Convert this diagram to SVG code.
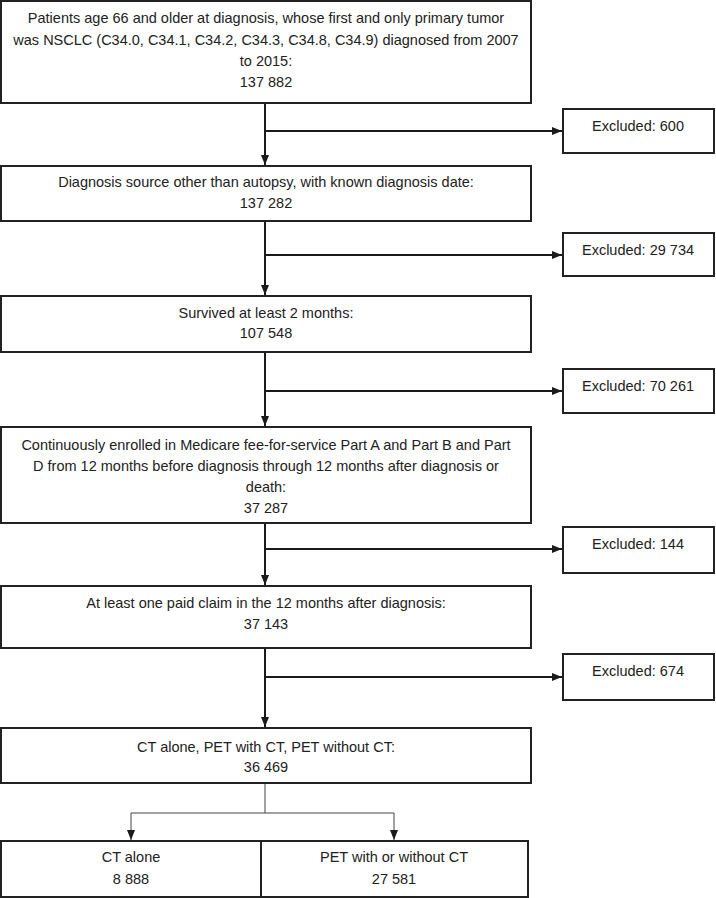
<svg xmlns="http://www.w3.org/2000/svg" width="716" height="898" viewBox="0 0 716 898">
<style>
.box{fill:#fff;stroke:#222;stroke-width:2}
.t{font-family:"Liberation Sans",Arial,sans-serif;font-size:14.5px;fill:#222;text-anchor:middle}
.ln{stroke:#1a1a1a;stroke-width:2;fill:none}
.thin{stroke:#444;stroke-width:1;fill:none}
</style>
<defs>
<marker id="ah" viewBox="0 0 10 10" refX="10" refY="5" markerWidth="10" markerHeight="10" markerUnits="userSpaceOnUse" orient="auto">
<path d="M0,1 L10,5 L0,9 Z" fill="#1a1a1a"/>
</marker>
</defs>
<rect width="716" height="898" fill="#fff"/>
<g id="connectors">
<path class="ln" d="M265,103 V165" marker-end="url(#ah)"/>
<path class="ln" d="M265,131 H562" marker-end="url(#ah)"/>
<path class="ln" d="M265,221 V295" marker-end="url(#ah)"/>
<path class="ln" d="M265,255 H562" marker-end="url(#ah)"/>
<path class="ln" d="M265,352 V426" marker-end="url(#ah)"/>
<path class="ln" d="M265,391 H562" marker-end="url(#ah)"/>
<path class="ln" d="M265,523 V585" marker-end="url(#ah)"/>
<path class="ln" d="M265,549 H562" marker-end="url(#ah)"/>
<path class="ln" d="M265,648 V727" marker-end="url(#ah)"/>
<path class="ln" d="M265,677 H562" marker-end="url(#ah)"/>
<path class="thin" d="M265,783 V813 M131,813 H394"/>
<path class="thin" d="M131,813 V840" marker-end="url(#ah)"/>
<path class="thin" d="M394,813 V840" marker-end="url(#ah)"/>
</g>
<g id="n1">
<rect class="box" x="1" y="1" width="530" height="102"/>
<text class="t" x="266" y="23">Patients age 66 and older at diagnosis, whose first and only primary tumor</text>
<text class="t" x="266" y="44.5">was NSCLC (C34.0, C34.1, C34.2, C34.3, C34.8, C34.9) diagnosed from 2007</text>
<text class="t" x="266" y="66">to 2015:</text>
<text class="t" x="266" y="87">137 882</text>
</g>
<g id="e1">
<rect class="box" x="563" y="109" width="151" height="44"/>
<text class="t" x="638" y="131">Excluded: 600</text>
</g>
<g id="n2">
<rect class="box" x="1" y="166" width="530" height="55"/>
<text class="t" x="266" y="187">Diagnosis source other than autopsy, with known diagnosis date:</text>
<text class="t" x="266" y="208">137 282</text>
</g>
<g id="e2">
<rect class="box" x="563" y="233" width="151" height="43"/>
<text class="t" x="638" y="255">Excluded: 29 734</text>
</g>
<g id="n3">
<rect class="box" x="1" y="296" width="530" height="56"/>
<text class="t" x="266" y="318">Survived at least 2 months:</text>
<text class="t" x="266" y="338">107 548</text>
</g>
<g id="e3">
<rect class="box" x="563" y="369" width="151" height="44"/>
<text class="t" x="638" y="391">Excluded: 70 261</text>
</g>
<g id="n4">
<rect class="box" x="1" y="427" width="530" height="96"/>
<text class="t" x="266" y="450">Continuously enrolled in Medicare fee-for-service Part A and Part B and Part</text>
<text class="t" x="266" y="471">D from 12 months before diagnosis through 12 months after diagnosis or</text>
<text class="t" x="266" y="492">death:</text>
<text class="t" x="266" y="513">37 287</text>
</g>
<g id="e4">
<rect class="box" x="563" y="527" width="151" height="46"/>
<text class="t" x="638" y="549">Excluded: 144</text>
</g>
<g id="n5">
<rect class="box" x="1" y="586" width="530" height="62"/>
<text class="t" x="266" y="608">At least one paid claim in the 12 months after diagnosis:</text>
<text class="t" x="266" y="629">37 143</text>
</g>
<g id="e5">
<rect class="box" x="563" y="654" width="151" height="46"/>
<text class="t" x="638" y="676">Excluded: 674</text>
</g>
<g id="n6">
<rect class="box" x="1" y="728" width="530" height="55"/>
<text class="t" x="266" y="752">CT alone, PET with CT, PET without CT:</text>
<text class="t" x="266" y="772">36 469</text>
</g>
<g id="n7">
<rect class="box" x="1" y="841" width="260" height="56"/>
<text class="t" x="131" y="862">CT alone</text>
<text class="t" x="131" y="884">8 888</text>
</g>
<g id="n8">
<rect class="box" x="261" y="841" width="267" height="56"/>
<text class="t" x="394" y="862">PET with or without CT</text>
<text class="t" x="394" y="884">27 581</text>
</g>
</svg>
